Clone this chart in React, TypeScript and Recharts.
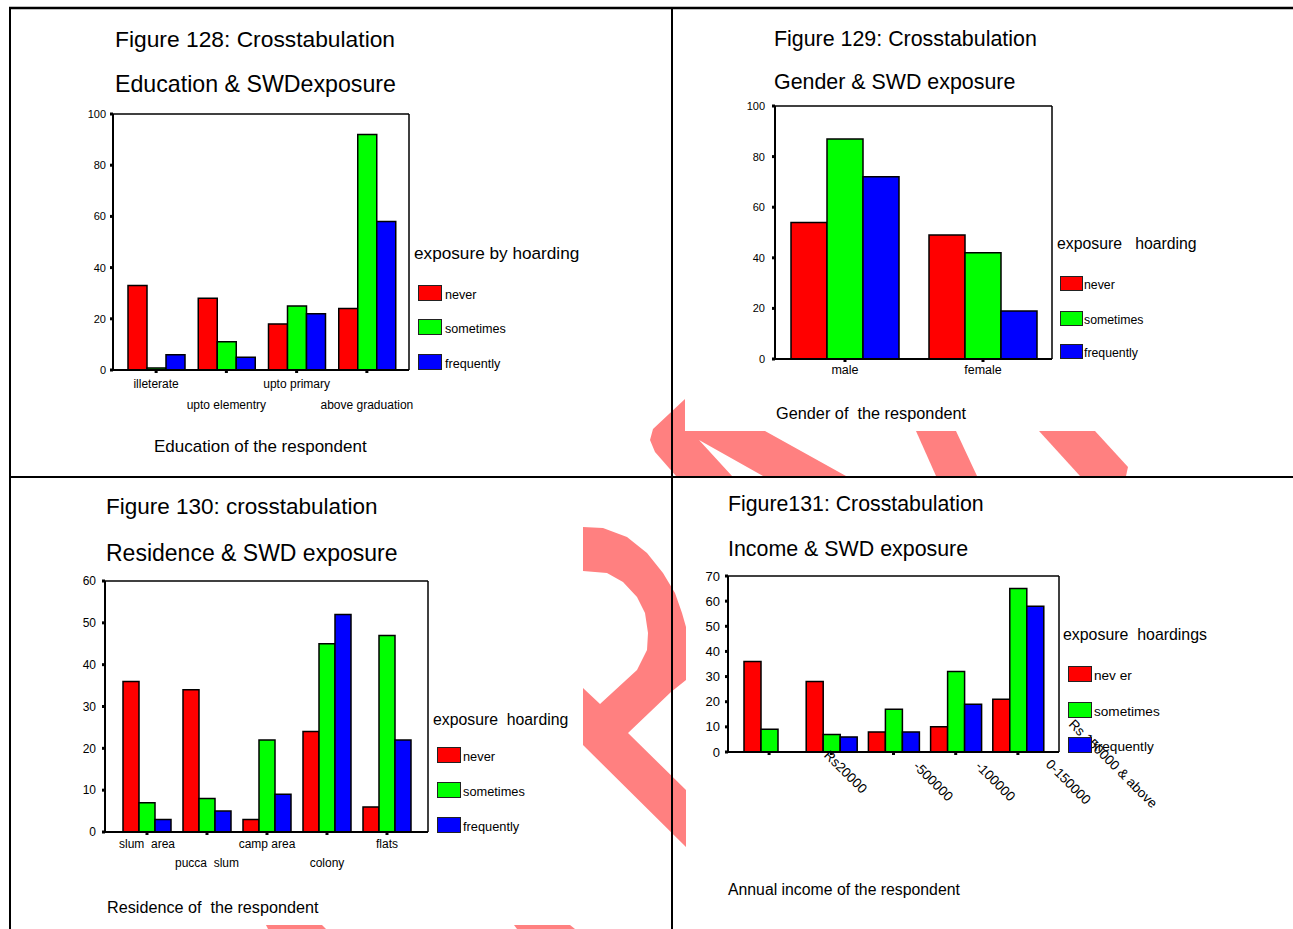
import React from "react";
import { BarChart, Bar, XAxis, YAxis, CartesianGrid } from "recharts";

const FONT = '"Liberation Sans", Arial, Helvetica, sans-serif';

const seriesKeys = ["never", "sometimes", "frequently"];
const seriesColors = ["#ff0000", "#00ff00", "#0000ff"];
const legendLabels = ["never", "sometimes", "frequently"];
const incomeLegendLabels = ["nev er", "sometimes", "frequently"];

// Figure 128: education
const educationCats = ["illeterate", "upto elementry", "upto primary", "above graduation"];
const educationNever = [33, 28, 18, 24];
const educationSometimes = [0.8, 11, 25, 92];
const educationFrequently = [6, 5, 22, 58];
const educationTicks = [0, 20, 40, 60, 80, 100];

// Figure 129: gender
const genderCats = ["male", "female"];
const genderNever = [54, 49];
const genderSometimes = [87, 42];
const genderFrequently = [72, 19];
const genderTicks = [0, 20, 40, 60, 80, 100];

// Figure 130: residence
const residenceCats = ["slum  area", "pucca  slum", "camp area", "colony", "flats"];
const residenceNever = [36, 34, 3, 24, 6];
const residenceSometimes = [7, 8, 22, 45, 47];
const residenceFrequently = [3, 5, 9, 52, 22];
const residenceTicks = [0, 10, 20, 30, 40, 50, 60];

// Figure 131: income
const incomeCats = ["", "Rs20000", "-500000", "-100000", "0-150000"];
const incomeExtraLabel = "Rs 150000 & above";
const incomeNever = [36, 28, 8, 10, 21];
const incomeSometimes = [9, 7, 17, 32, 65];
const incomeFrequently = [null, 6, 8, 19, 58];
const incomeTicks = [0, 10, 20, 30, 40, 50, 60, 70];

type Row = { name: string; never: number | null; sometimes: number | null; frequently: number | null };

function rows(cats: string[], a: (number | null)[], b: (number | null)[], c: (number | null)[]): Row[] {
  return cats.map((name, i) => ({ name, never: a[i], sometimes: b[i], frequently: c[i] }));
}

const staggerTick = (d1: number, d2: number, fs: number) => (props: any) => {
  const { x, y, payload, index } = props;
  return (
    <text x={x} y={y + (index % 2 ? d2 : d1)} textAnchor="middle" dominantBaseline="central"
      fontSize={fs} fill="#000" fontFamily={FONT} style={{ whiteSpace: "pre" }}>
      {payload.value}
    </text>
  );
};

// label start offsets from each income tick (the source labels are shifted)
const incomeShift = [[0, 0], [-8, 1], [19, 12], [19, 12], [27, 10]];
const incomeExtraShift = [50, -30];

const incomeTick = (props: any) => {
  const { x, y, payload, index } = props;
  const [dx, dy] = incomeShift[index] || [0, 0];
  const px = x + dx;
  const py = y + dy;
  const ex = x + incomeExtraShift[0];
  const ey = y + incomeExtraShift[1];
  return (
    <g>
      <text x={px} y={py} fontSize={13.5} fill="#000" fontFamily={FONT} transform={`rotate(45 ${px} ${py})`}>
        {payload.value}
      </text>
      {index === incomeCats.length - 1 && (
        <text x={ex} y={ey} fontSize={13.5} fill="#000" fontFamily={FONT} transform={`rotate(45 ${ex} ${ey})`}>
          {incomeExtraLabel}
        </text>
      )}
    </g>
  );
};

type PanelProps = {
  left: number; top: number; width: number; height: number;
  marginTop: number; marginRight: number;
  yWidth: number; yMax: number; yTicks: number[]; yFont: number; yGap: number;
  xHeight: number; xPad: { left: number; right: number }; barSize: number;
  data: Row[]; tick: any;
};

function Panel(p: PanelProps) {
  return (
    <div style={{ position: "absolute", left: p.left, top: p.top }}>
      <BarChart width={p.width} height={p.height} data={p.data}
        margin={{ top: p.marginTop, right: p.marginRight, bottom: 0, left: 0 }}
        barGap={0} barSize={p.barSize}>
        {/* frame: top and right edges of the plot box */}
        <CartesianGrid stroke="#000" strokeWidth={1.5}
          horizontalCoordinatesGenerator={({ offset }: any) => [offset.top]}
          verticalCoordinatesGenerator={({ offset }: any) => [offset.left + offset.width]} />
        <XAxis dataKey="name" interval={0} padding={p.xPad} height={p.xHeight}
          axisLine={{ stroke: "#000", strokeWidth: 2 }}
          tickLine={{ stroke: "#000", strokeWidth: 3 }} tickSize={3} tickMargin={0}
          tick={p.tick} />
        <YAxis width={p.yWidth} domain={[0, p.yMax]} ticks={p.yTicks} interval={0}
          axisLine={{ stroke: "#000", strokeWidth: 2 }}
          tickLine={{ stroke: "#000", strokeWidth: 3 }} tickSize={3} tickMargin={p.yGap}
          tick={{ fill: "#000", fontSize: p.yFont, fontFamily: FONT }} />
        {seriesKeys.map((k, i) => (
          <Bar key={k} dataKey={k} fill={seriesColors[i]} stroke="#000" strokeWidth={1.5} isAnimationActive={false} />
        ))}
      </BarChart>
    </div>
  );
}

function Label({ x, y, size, text }: { x: number; y: number; size: number; text: string }) {
  return (
    <div style={{
      position: "absolute", left: x, top: y - size * 0.575, fontSize: size, lineHeight: `${size * 1.15}px`,
      whiteSpace: "pre", fontFamily: FONT, color: "#000",
    }}>{text}</div>
  );
}

type LegendProps = {
  tx: number; ty: number; tsize: number; title: string; labels: string[];
  sx: number; sw: number; sh: number; tops: number[]; lx: number; lsize: number;
};

function SeriesLegend(p: LegendProps) {
  return (
    <>
      <Label x={p.tx} y={p.ty} size={p.tsize} text={p.title} />
      {p.labels.map((l, i) => (
        <React.Fragment key={l}>
          <div style={{
            position: "absolute", left: p.sx, top: p.tops[i], width: p.sw, height: p.sh, boxSizing: "border-box",
            background: seriesColors[i], border: "1.5px solid #222",
          }} />
          <Label x={p.lx} y={p.tops[i] + p.sh / 2 + 2} size={p.lsize} text={l} />
        </React.Fragment>
      ))}
    </>
  );
}

const PINK = "#ff8080";

export default function App() {
  return (
    <div style={{ position: "absolute", left: 0, top: 0, width: 1293, height: 929, background: "#fff", overflow: "hidden", fontFamily: FONT }}>
      <svg width={1293} height={929} style={{ position: "absolute", left: 0, top: 0 }}>
        <polygon fill={PINK} points="685,399 685,431 765,431 846,476 763,476 699,440 732,476 676,476 655,452 650,440 653,429" />
        <polygon fill={PINK} points="916,431 956,431 977,476 936,476" />
        <polygon fill={PINK} points="1039,431 1095,431 1128,467 1126,476 1080,476" />
        <polygon fill={PINK} points="583,527 603,528 627,537 647,553 663,573 675,593 682,613 686,627 686,680 671,692 628,733 686,790 686,847 583,745 583,688 600,704 637,670 647,650 648,633 645,613 637,597 623,582 607,573 583,571" />
        <polygon fill={PINK} points="266,925 322,925 326,929 268,929" />
        <polygon fill={PINK} points="514,925 570,925 575,929 517,929" />
        <line x1={9} y1={8} x2={1293} y2={8} stroke="#000" strokeWidth={2.5} />
        <line x1={10} y1={7} x2={10} y2={929} stroke="#000" strokeWidth={2} />
        <line x1={672} y1={7} x2={672} y2={929} stroke="#000" strokeWidth={2} />
        <line x1={9} y1={477} x2={1293} y2={477} stroke="#000" strokeWidth={2} />
      </svg>

      {/* Figure 128 */}
      <Label x={115} y={39} size={22.8} text="Figure 128: Crosstabulation" />
      <Label x={115} y={84} size={23.2} text="Education & SWDexposure" />
      <Panel left={70} top={100} width={350} height={320} marginTop={14} marginRight={11}
        yWidth={43} yMax={100} yTicks={educationTicks} yFont={11} yGap={4}
        xHeight={50} xPad={{ left: 8, right: 7 }} barSize={19}
        data={rows(educationCats, educationNever, educationSometimes, educationFrequently)}
        tick={staggerTick(11, 32, 12)} />
      <SeriesLegend tx={414} ty={254} tsize={17.2} title="exposure by hoarding" labels={legendLabels}
        sx={418} sw={24} sh={16} tops={[285, 319, 354]} lx={445} lsize={12.6} />
      <Label x={154} y={447} size={17} text="Education of the respondent" />

      {/* Figure 129 */}
      <Label x={774} y={39} size={21.4} text="Figure 129: Crosstabulation" />
      <Label x={774} y={82} size={21.4} text="Gender & SWD exposure" />
      <Panel left={730} top={95} width={330} height={294} marginTop={11} marginRight={8}
        yWidth={45} yMax={100} yTicks={genderTicks} yFont={11} yGap={7}
        xHeight={30} xPad={{ left: 1, right: 0 }} barSize={36}
        data={rows(genderCats, genderNever, genderSometimes, genderFrequently)}
        tick={staggerTick(8, 8, 12.5)} />
      <SeriesLegend tx={1057} ty={244} tsize={15.8} title="exposure   hoarding" labels={legendLabels}
        sx={1060} sw={23} sh={15} tops={[276, 311, 344]} lx={1084} lsize={12.3} />
      <Label x={776} y={413} size={16.3} text="Gender of  the respondent" />

      {/* Figure 130 */}
      <Label x={106} y={507} size={22.5} text="Figure 130: crosstabulation" />
      <Label x={106} y={553} size={23} text="Residence & SWD exposure" />
      <Panel left={60} top={570} width={380} height={307} marginTop={11} marginRight={12}
        yWidth={45} yMax={60} yTicks={residenceTicks} yFont={12} yGap={6}
        xHeight={45} xPad={{ left: 12, right: 11 }} barSize={16}
        data={rows(residenceCats, residenceNever, residenceSometimes, residenceFrequently)}
        tick={staggerTick(9, 28, 12)} />
      <SeriesLegend tx={433} ty={720} tsize={15.8} title="exposure  hoarding" labels={legendLabels}
        sx={437} sw={24} sh={16} tops={[747, 782, 817]} lx={463} lsize={12.8} />
      <Label x={107} y={907} size={16.2} text="Residence of  the respondent" />

      {/* Figure 131 */}
      <Label x={728} y={504} size={21.3} text="Figure131: Crosstabulation" />
      <Label x={728} y={549} size={21.4} text="Income & SWD exposure" />
      <Panel left={690} top={565} width={480} height={257} marginTop={11} marginRight={111}
        yWidth={38} yMax={70} yTicks={incomeTicks} yFont={13} yGap={5}
        xHeight={70} xPad={{ left: 10, right: 10 }} barSize={17}
        data={rows(incomeCats, incomeNever, incomeSometimes, incomeFrequently)}
        tick={incomeTick} />
      <SeriesLegend tx={1063} ty={635} tsize={15.9} title="exposure  hoardings" labels={incomeLegendLabels}
        sx={1068} sw={24} sh={16} tops={[666, 702, 737]} lx={1094} lsize={13.6} />
      <Label x={728} y={890} size={15.8} text="Annual income of the respondent" />
    </div>
  );
}
